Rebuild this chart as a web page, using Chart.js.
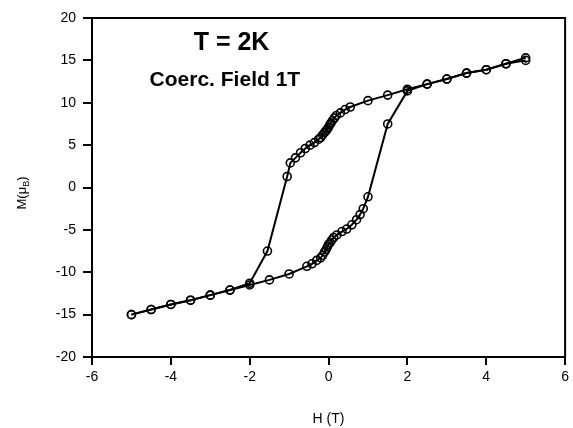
<!DOCTYPE html>
<html>
<head>
<meta charset="utf-8">
<script src="https://cdn.jsdelivr.net/npm/chart.js@4/dist/chart.umd.min.js"></script>
<style>
html,body{margin:0;padding:0;background:#fff;}
#wrap{width:573px;height:428px;position:relative;}
</style>
</head>
<body>
<div id="wrap"><canvas id="c" width="573" height="428"></canvas></div>
<script>
// Descending branch (field swept from +5 T to -5 T)
const hDown = [5, 4.5, 4, 3.5, 3, 2.5, 2, 1.5, 1, 0.55, 0.42, 0.3, 0.2, 0.15, 0.1, 0.06, 0.03, 0, -0.03, -0.06, -0.1, -0.15, -0.2, -0.25, -0.36, -0.47, -0.59, -0.71, -0.84, -0.97, -1.05, -1.55, -2, -2.5, -3, -3.5, -4, -4.5, -5];
const mDown = [15.3, 14.6, 13.9, 13.5, 12.8, 12.2, 11.6, 10.9, 10.25, 9.5, 9.2, 8.8, 8.5, 8.2, 7.9, 7.6, 7.4, 7.1, 6.9, 6.7, 6.5, 6.2, 5.9, 5.7, 5.3, 5.0, 4.6, 4.1, 3.5, 2.9, 1.3, -7.5, -11.3, -12.1, -12.7, -13.3, -13.8, -14.4, -15.0];
// Ascending branch (field swept from -5 T to +5 T)
const hUp = [-5, -4.5, -4, -3.5, -3, -2.5, -2, -1.5, -1, -0.55, -0.42, -0.3, -0.2, -0.15, -0.1, -0.06, -0.03, 0, 0.04, 0.08, 0.13, 0.21, 0.34, 0.46, 0.59, 0.71, 0.8, 0.88, 1.0, 1.5, 2, 2.5, 3, 3.5, 4, 4.5, 5];
const mUp = [-15.0, -14.4, -13.8, -13.3, -12.7, -12.1, -11.5, -10.9, -10.2, -9.3, -9.0, -8.6, -8.3, -8.0, -7.6, -7.3, -7.0, -6.7, -6.5, -6.2, -5.9, -5.6, -5.2, -4.9, -4.4, -3.8, -3.2, -2.5, -1.1, 7.5, 11.4, 12.2, 12.8, 13.5, 13.9, 14.6, 15.0];
const xTicks = [-6, -4, -2, 0, 2, 4, 6];
const yTicks = [-20, -15, -10, -5, 0, 5, 10, 15, 20];
const xTitle = "H (T)";
const yTitleMain = "M(μ";
const yTitleSub = "B";
const yTitleEnd = ")";
const notes = [
  {text: "T = 2K", h: -2.46, m: 17.0, size: 25},
  {text: "Coerc. Field 1T", h: -2.63, m: 12.7, size: 21}
];

const zip = (xs, ys) => xs.map((x, i) => ({x: x, y: ys[i]}));
const FONT = "'Liberation Sans', Arial, Helvetica, sans-serif";

const framePlugin = {
  id: 'frame',
  afterDraw(chart) {
    const {ctx, chartArea: a, scales} = chart;
    ctx.save();
    ctx.strokeStyle = '#000';
    ctx.lineWidth = 2;
    ctx.strokeRect(a.left, a.top, a.right - a.left, a.bottom - a.top);
    // annotations
    ctx.fillStyle = '#000';
    ctx.textAlign = 'center';
    ctx.textBaseline = 'middle';
    notes.forEach(n => {
      ctx.font = "bold " + n.size + "px " + FONT;
      ctx.fillText(n.text, scales.x.getPixelForValue(n.h), scales.y.getPixelForValue(n.m));
    });
    // y title with subscript
    ctx.translate(21, 193);
    ctx.rotate(-Math.PI / 2);
    ctx.font = "13px " + FONT;
    const w1 = ctx.measureText(yTitleMain).width;
    ctx.font = "9px " + FONT;
    const w2 = ctx.measureText(yTitleSub).width;
    ctx.font = "13px " + FONT;
    const w3 = ctx.measureText(yTitleEnd).width;
    let x0 = -(w1 + w2 + w3) / 2;
    ctx.textAlign = 'left';
    ctx.textBaseline = 'alphabetic';
    ctx.fillText(yTitleMain, x0, 5);
    ctx.font = "9px " + FONT;
    ctx.fillText(yTitleSub, x0 + w1, 8);
    ctx.font = "13px " + FONT;
    ctx.fillText(yTitleEnd, x0 + w1 + w2, 5);
    ctx.restore();
  }
};

const ds = (pts) => ({data: pts, showLine: true, borderColor: '#000', borderWidth: 2,
  pointRadius: 4, pointBorderWidth: 1.6, pointBorderColor: '#000', pointBackgroundColor: 'rgba(0,0,0,0)'});

new Chart(document.getElementById('c'), {
  type: 'scatter',
  data: {
    datasets: [ds(zip(hDown, mDown)), ds(zip(hUp, mUp))]
  },
  options: {
    responsive: false,
    animation: false,
    layout: {padding: {left: 0, right: 5, top: 18, bottom: 0}},
    plugins: {legend: {display: false}, tooltip: {enabled: false}},
    scales: {
      x: {
        type: 'linear', min: -6, max: 6,
        afterBuildTicks: s => { s.ticks = xTicks.map(v => ({value: v})); },
        afterFit: s => { s.height = 71; },
        grid: {drawOnChartArea: false, drawTicks: true, tickLength: 8, color: '#000', lineWidth: 2},
        border: {display: true, color: '#000', width: 2},
        ticks: {color: '#000', font: {family: FONT, size: 14}, padding: 4, maxRotation: 0},
        title: {display: true, text: xTitle, color: '#000', font: {family: FONT, size: 14}, padding: {top: 16, bottom: 0}}
      },
      y: {
        type: 'linear', min: -20, max: 20,
        afterBuildTicks: s => { s.ticks = yTicks.map(v => ({value: v})); },
        afterFit: s => { s.width = 92; },
        grid: {drawOnChartArea: false, drawTicks: true, tickLength: 9, color: '#000', lineWidth: 2},
        border: {display: true, color: '#000', width: 2},
        ticks: {color: '#000', font: {family: FONT, size: 14}, padding: 7}
      }
    }
  },
  plugins: [framePlugin]
});
</script>
</body>
</html>
